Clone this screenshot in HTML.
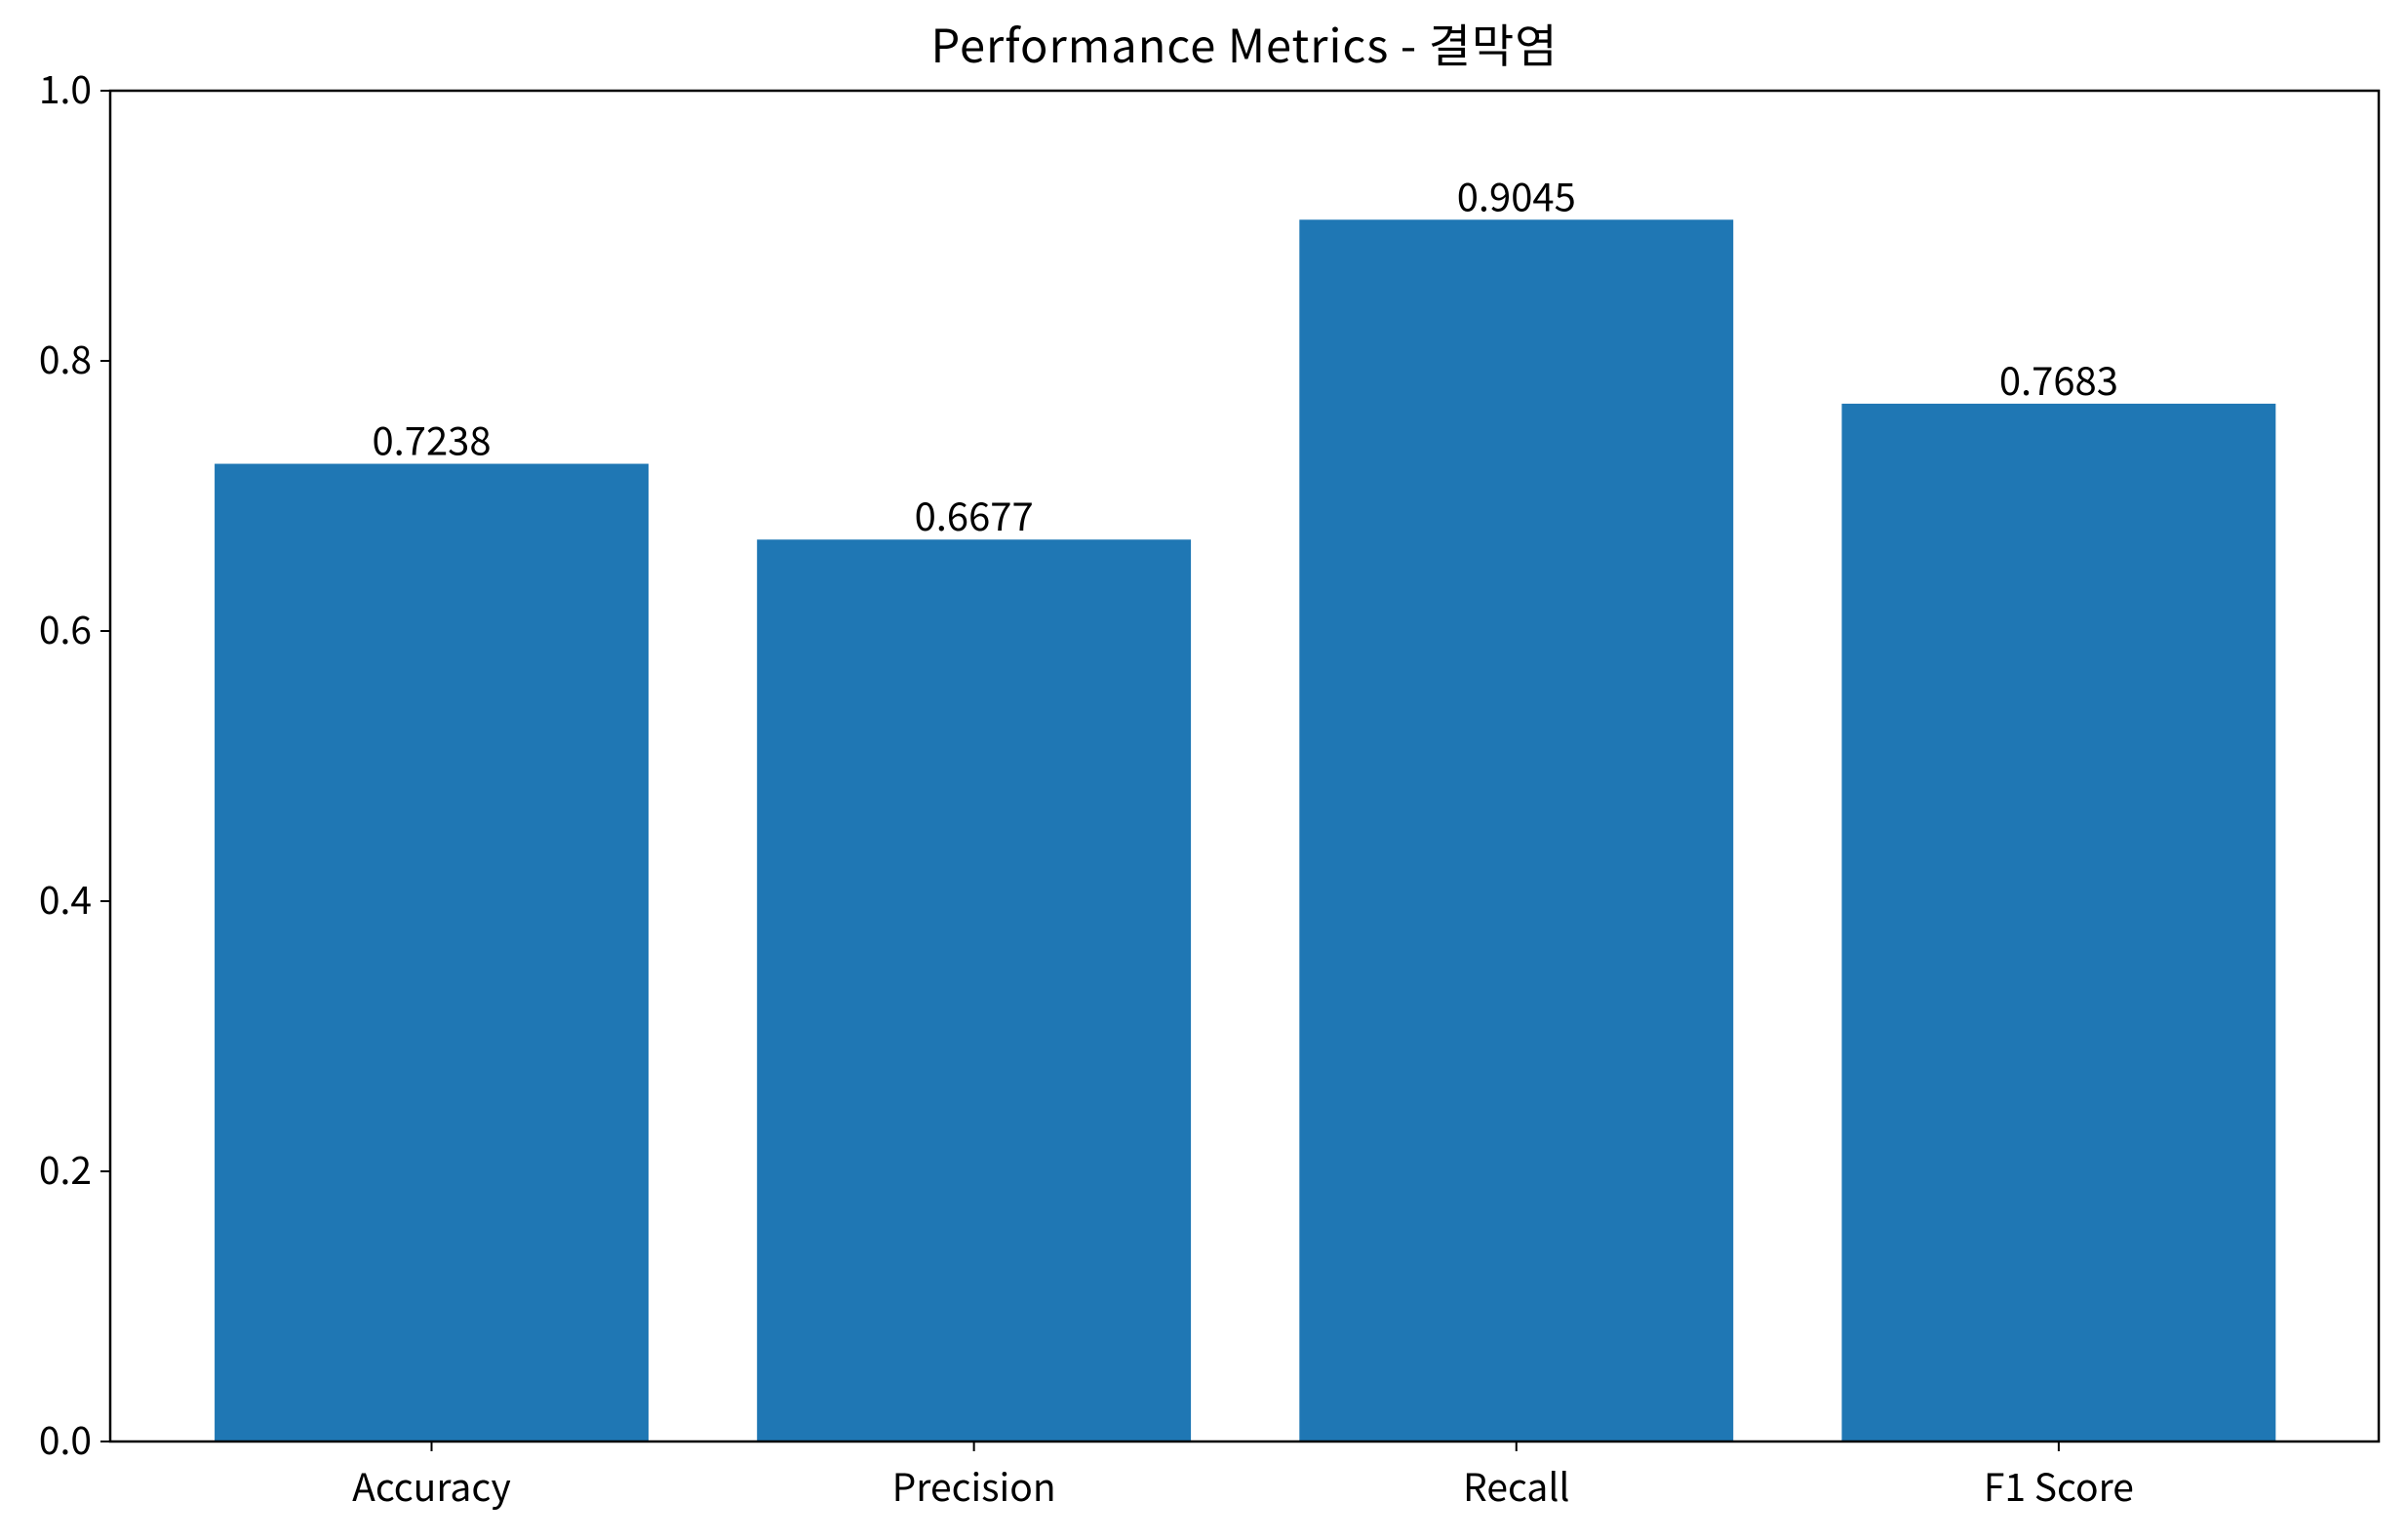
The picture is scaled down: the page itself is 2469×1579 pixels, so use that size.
<!DOCTYPE html>
<html><head><meta charset="utf-8"><style>
html,body{margin:0;padding:0;background:#fff;}
svg{display:block;font-family:"Noto Sans CJK KR","Liberation Sans",sans-serif;}
</style></head><body>
<svg id="chart" width="2469" height="1579" viewBox="0 0 2469 1579" xmlns="http://www.w3.org/2000/svg">
<rect width="2469" height="1579" fill="#fff"/>
<text x="1276" y="64" font-size="47" letter-spacing="1" text-anchor="middle" fill="#000">Performance Metrics - 결막염</text>
<g id="plot"></g>
</svg>
<script>
const categories = ["Accuracy", "Precision", "Recall", "F1 Score"];
const values = [0.7238, 0.6677, 0.9045, 0.7683];
const valueLabels = ["0.7238", "0.6677", "0.9045", "0.7683"];
const yTicks = [0.0, 0.2, 0.4, 0.6, 0.8, 1.0];
const yTickLabels = ["0.0", "0.2", "0.4", "0.6", "0.8", "1.0"];

const L = 113, R = 2439, T = 93, B = 1478;
const NS = "http://www.w3.org/2000/svg";
const xMin = -0.5925, xMax = 3.59;
function xs(i){ return L + (i - xMin) / (xMax - xMin) * (R - L); }
function ys(v){ return B - v * (B - T); }
const unit = (R - L) / (xMax - xMin);
const g = document.getElementById('plot');
function mk(tag, attrs){ const e = document.createElementNS(NS, tag); for (const k in attrs) e.setAttribute(k, attrs[k]); g.appendChild(e); return e; }

categories.forEach((c, i) => {
  const v = values[i];
  const bw = 0.8 * unit;
  const r = mk('rect', {x: xs(i) - bw/2, y: ys(v), width: bw, height: ys(0) - ys(v), fill: '#1f77b4'});
  
  
  const t = mk('text', {x: xs(i), y: ys(v) - 9, 'font-size': 40, 'text-anchor': 'middle', fill: '#000'});
  t.textContent = valueLabels[i];
  
  
  const tk = mk('line', {x1: xs(i), x2: xs(i), y1: B, y2: B + 10, stroke: '#000', 'stroke-width': 2});
  
  
  const tl = mk('text', {x: xs(i), y: 1539, 'font-size': 39, 'text-anchor': 'middle', fill: '#000'});
  tl.textContent = c;
  
  
});

yTicks.forEach((v, i) => {
  const tk = mk('line', {x1: L - 10, x2: L, y1: ys(v), y2: ys(v), stroke: '#000', 'stroke-width': 2});
  
  
  const tl = mk('text', {x: L - 19, y: ys(v) + 13, 'font-size': 39, 'text-anchor': 'end', fill: '#000'});
  tl.textContent = yTickLabels[i];
  
  
});

const frame = mk('rect', {x: L, y: T, width: R - L, height: B - T, fill: 'none', stroke: '#000', 'stroke-width': 2.5});


</script>
</body></html>
